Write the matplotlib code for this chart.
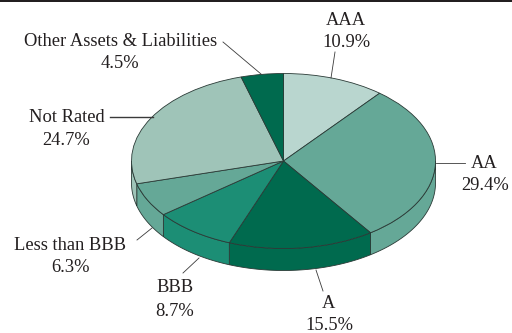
import numpy as np
import matplotlib
matplotlib.use("Agg")
import matplotlib.pyplot as plt
from matplotlib.patches import Polygon, Rectangle

categories = ["AAA", "AA", "A", "BBB", "Less than BBB", "Not Rated", "Other Assets & Liabilities"]
shares = [10.9, 29.4, 15.5, 8.7, 6.3, 24.7, 4.5]
colors = ["#b9d6cf", "#65a897", "#006a4e", "#1c8e75", "#65a897", "#9fc4b8", "#006a4e"]

# Pie placement on the canvas, in pixels
W, H = 512, 333
CX, CY, RX, RY, DEPTH = 283.5, 161.0, 152.0, 87.5, 22.0
INK = "#231f20"
EDGE = "#2a3a36"

plt.rcParams["font.family"] = ["Liberation Serif", "DejaVu Serif"]

fig = plt.figure(figsize=(W / 100, H / 100), dpi=100, facecolor="white")
ax = fig.add_axes([0, 0, 1, 1])


def ux(px):
    return (px - CX) / RX


def uy(py):
    return (CY - py) / RY


# Top face of the disc
ax.pie(shares, colors=colors, startangle=90, counterclock=False, radius=1,
       wedgeprops=dict(edgecolor=EDGE, linewidth=0.6, zorder=3))
ax.set_aspect("auto")
ax.set_xlim(ux(0), ux(W))
ax.set_ylim(uy(H), uy(0))
ax.axis("off")

# Visible rim: only the front half of the disc (90 to 270 degrees from the top)
drop = DEPTH / RY
bounds = np.cumsum([0] + shares) / 100 * 360
for start, end, col in zip(bounds[:-1], bounds[1:], colors):
    lo, hi = max(start, 90), min(end, 270)
    if lo >= hi:
        continue
    t = np.radians(np.linspace(lo, hi, 80))
    xs, ys = np.sin(t), np.cos(t)
    pts = np.r_[np.c_[xs, ys], np.c_[xs[::-1], ys[::-1] - drop]]
    ax.add_patch(Polygon(pts, closed=True, facecolor=col, edgecolor=EDGE,
                         linewidth=0.6, zorder=2))

# Band along the top edge
ax.add_patch(Rectangle((ux(0), uy(2.4)), ux(W) - ux(0), uy(0) - uy(2.4),
                       facecolor=INK, edgecolor="none", zorder=5))

# Labels: name, value, centre of the name line, centre of the value line
label_pos = [(346, 20, 346, 42), (484, 163, 485, 185), (328, 304, 329, 326),
             (175, 288, 175, 311), (70, 245, 70, 267), (67, 117, 66, 140),
             (121, 41, 120, 63)]
for name, val, (x1, y1, x2, y2) in zip(categories, shares, label_pos):
    ax.text(ux(x1), uy(y1), name, ha="center", va="center", fontsize=13.3, color=INK)
    ax.text(ux(x2), uy(y2), f"{val}%", ha="center", va="center", fontsize=13.3, color=INK)

# Leader lines
leaders = [((335, 52), (331, 78), 0.6), ((436, 163), (465, 163), 0.6),
           ((316, 270), (323, 291), 0.6), ((183, 273), (199, 258), 0.6),
           ((137, 240), (152, 228), 0.6), ((110, 117), (153, 117), 1.0),
           ((223, 42), (261, 74), 0.6)]
for (x0, y0), (x1, y1), lw in leaders:
    ax.plot([ux(x0), ux(x1)], [uy(y0), uy(y1)], color="#3a3a3a", lw=lw, zorder=4)

fig.savefig("out.png", dpi=100, facecolor="white")
